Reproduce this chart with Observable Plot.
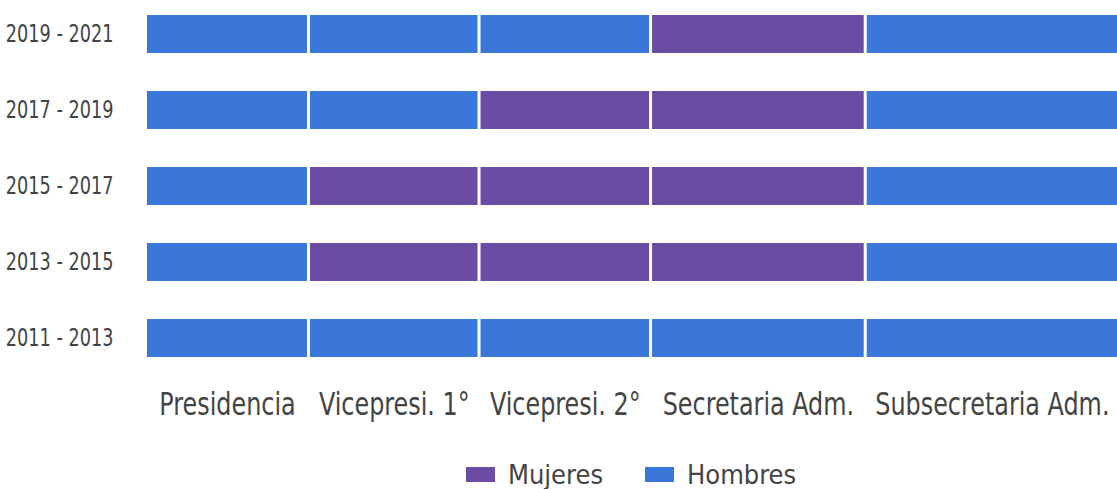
<!DOCTYPE html>
<html>
<head>
<meta charset="utf-8">
<script src="https://cdn.jsdelivr.net/npm/d3@7"></script>
<script src="https://cdn.jsdelivr.net/npm/@observablehq/plot@0.6"></script>
<style>
  html, body { margin: 0; padding: 0; background: #fff; }
  body { width: 1117px; height: 489px; overflow: hidden; font-family: "DejaVu Sans Condensed", "Open Sans", sans-serif; color: #444; }
  #legend { position: relative; height: 59px; }
  .item { position: absolute; top: 15px; display: flex; align-items: center; height: 59px; font-size: 27px; color: #444; }
  .sw { width: 29px; height: 15px; margin-right: 13px; }
</style>
</head>
<body>
<div id="chart"></div>
<div id="legend"></div>
<script>
const periods = ["2019 - 2021", "2017 - 2019", "2015 - 2017", "2013 - 2015", "2011 - 2013"];
const positions = ["Presidencia", "Vicepresi. 1°", "Vicepresi. 2°", "Secretaria Adm.", "Subsecretaria Adm."];
const weights = [162.5, 170, 171, 214, 252.5];
const genders = ["Mujeres", "Hombres"];
const colors = ["#6a4ca5", "#3b77d8"];
// occupant gender per period (rows) and position (columns)
const holders = [
  ["Hombres", "Hombres", "Hombres", "Mujeres", "Hombres"],
  ["Hombres", "Hombres", "Mujeres", "Mujeres", "Hombres"],
  ["Hombres", "Mujeres", "Mujeres", "Mujeres", "Hombres"],
  ["Hombres", "Mujeres", "Mujeres", "Mujeres", "Hombres"],
  ["Hombres", "Hombres", "Hombres", "Hombres", "Hombres"]
];

const rows = periods.flatMap((p, i) => positions.map((pos, j) => ({
  period: p, position: pos, weight: weights[j], gender: holders[i][j]
})));
const total = d3.sum(weights);
const font = '"DejaVu Sans Condensed", "Open Sans", sans-serif';

const chart = Plot.plot({
  width: 1117,
  height: 430,
  marginLeft: 147,
  marginRight: 0,
  marginTop: 0,
  marginBottom: 58,
  style: { fontFamily: font, color: "#444", background: "#fff" },
  x: { domain: [0, total], range: [145.5, 1118.5], axis: null },
  y: { domain: periods, paddingInner: 0.5, paddingOuter: 0.169, axis: null },
  color: { domain: genders, range: colors },
  marks: [
    Plot.barX(rows, Plot.stackX({ x: "weight", y: "period", fill: "gender", insetLeft: 1.5, insetRight: 1.5 })),
    Plot.axisY({ tickSize: 0, tickPadding: 34, fontSize: 24, label: null, fill: "#444" }),
    Plot.text(rows.filter(d => d.period === periods[0]),
      Plot.stackX({ x: "weight", text: "position", frameAnchor: "bottom", lineAnchor: "top", dy: 20, fontSize: 32, fill: "#444" }))
  ]
});

// horizontally condense label glyphs around their anchor point
function squeeze(selection, s) {
  selection.each(function () {
    const tr = this.getAttribute("transform") || "";
    const xa = this.getAttribute("x");
    let x = 0;
    if (xa !== null && isFinite(+xa)) { x = +xa; this.removeAttribute("x"); }
    this.setAttribute("transform", `${tr} translate(${x},0) scale(${s},1)`);
  });
}
const svg = d3.select(chart);
squeeze(svg.selectAll('g[aria-label="y-axis tick label"] text'), 0.82);
squeeze(svg.selectAll('g[aria-label="text"] text'), 0.83);
document.getElementById("chart").appendChild(chart);

const legend = document.getElementById("legend");
const legendX = [466, 645];
genders.forEach((g, i) => {
  const item = document.createElement("div");
  item.className = "item";
  item.style.left = legendX[i] + "px";
  const sw = document.createElement("span");
  sw.className = "sw";
  sw.style.background = colors[i];
  const t = document.createElement("span");
  t.textContent = g;
  item.appendChild(sw);
  item.appendChild(t);
  legend.appendChild(item);
});
</script>
</body>
</html>
